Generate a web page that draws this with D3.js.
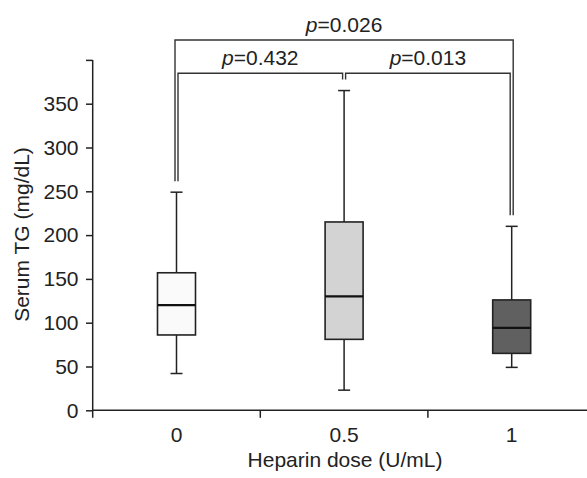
<!DOCTYPE html>
<html>
<head>
<meta charset="utf-8">
<script src="https://cdn.jsdelivr.net/npm/d3@7"></script>
<style>
  html, body { margin: 0; padding: 0; background: #fff; }
  svg { display: block; font-family: "Liberation Sans", Arial, sans-serif; }
</style>
</head>
<body>
<svg id="chart" width="587" height="478"></svg>
<script>
// ---- data ----
const categories = ["0", "0.5", "1"];
const whiskerLow  = [42, 23, 49];
const q1          = [86, 81, 65];
const medians     = [120, 130, 94];
const q3          = [157, 215, 126];
const whiskerHigh = [249, 365, 210];
const boxFills    = ["#fafafa", "#d3d3d3", "#606060"];
const yTicks      = [0, 50, 100, 150, 200, 250, 300, 350, 400];
const yTickLabels = ["0", "50", "100", "150", "200", "250", "300", "350", ""];
const compFrom    = [0, 1, 0];
const compTo      = [1, 2, 2];
const compLevel   = [1, 1, 2];
const compP       = ["0.432", "0.013", "0.026"];
const xTitle = "Heparin dose (U/mL)";
const yTitle = "Serum TG (mg/dL)";

const svg = d3.select("#chart");
const FS = 21;
const ink = "#222";

const x = d3.scaleBand().domain(categories).range([92.7, 595.5]).padding(0);
const y = d3.scaleLinear().domain([0, 400]).range([410.3, 59.9]);
const cx = i => x(categories[i]) + x.bandwidth() / 2;

// ---- y axis ----
const yAxis = d3.axisLeft(y).tickValues(yTicks)
  .tickFormat((d, i) => yTickLabels[i]).tickSize(6.7).tickPadding(7.5).tickSizeOuter(0);
const gy = svg.append("g").attr("transform", `translate(${x.range()[0]},0)`).call(yAxis);
gy.select(".domain").remove();
gy.append("line").attr("x1", 0).attr("x2", 0).attr("y1", y(400)).attr("y2", y(0) + 7.5)
  .attr("stroke", ink).attr("stroke-width", 1.5);
gy.selectAll(".tick line").attr("stroke", ink).attr("stroke-width", 1.5);
gy.selectAll(".tick text").attr("fill", ink).style("font-size", FS + "px")
  .style("font-family", "Liberation Sans, Arial, sans-serif");

// ---- x axis ----
const xAxis = d3.axisBottom(x).tickSize(0).tickPadding(16.8);
const gx = svg.append("g").attr("transform", `translate(0,${y(0)})`).call(xAxis);
gx.select(".domain").remove();
gx.append("line").attr("x1", x.range()[0]).attr("x2", 587).attr("y1", 0).attr("y2", 0)
  .attr("stroke", ink).attr("stroke-width", 1.5);
gx.selectAll(".tick text").attr("fill", ink).style("font-size", FS + "px")
  .style("font-family", "Liberation Sans, Arial, sans-serif");
// boundary ticks
gx.selectAll("line.bt").data(categories.slice(1)).enter().append("line")
  .attr("class", "bt")
  .attr("x1", d => x(d)).attr("x2", d => x(d))
  .attr("y1", 0).attr("y2", 7.5).attr("stroke", ink).attr("stroke-width", 1.5);

// ---- titles ----
svg.append("text").attr("x", 345).attr("y", 466.5).attr("text-anchor", "middle")
  .attr("fill", ink).style("font-size", FS + "px").text(xTitle);
svg.append("text").attr("transform", "translate(28.5,234.5) rotate(-90)")
  .attr("text-anchor", "middle").attr("fill", ink).style("font-size", FS + "px").text(yTitle);

// ---- boxes ----
const boxW = 38, capW = 12;
const g = svg.append("g");
categories.forEach((c, i) => {
  const xc = cx(i);
  // whiskers
  g.append("line").attr("x1", xc).attr("x2", xc).attr("y1", y(whiskerHigh[i])).attr("y2", y(q3[i]))
    .attr("stroke", ink).attr("stroke-width", 1.5);
  g.append("line").attr("x1", xc).attr("x2", xc).attr("y1", y(q1[i])).attr("y2", y(whiskerLow[i]))
    .attr("stroke", ink).attr("stroke-width", 1.5);
  [whiskerHigh[i], whiskerLow[i]].forEach(v => {
    g.append("line").attr("x1", xc - capW / 2).attr("x2", xc + capW / 2)
      .attr("y1", y(v)).attr("y2", y(v)).attr("stroke", ink).attr("stroke-width", 1.5);
  });
  g.append("rect").attr("x", xc - boxW / 2).attr("y", y(q3[i]))
    .attr("width", boxW).attr("height", y(q1[i]) - y(q3[i]))
    .attr("fill", boxFills[i]).attr("stroke", ink).attr("stroke-width", 1.6);
  g.append("line").attr("x1", xc - boxW / 2).attr("x2", xc + boxW / 2)
    .attr("y1", y(medians[i])).attr("y2", y(medians[i]))
    .attr("stroke", "#111").attr("stroke-width", 2.3);
});

// ---- significance brackets ----
const levelY = {1: 73.3, 2: 40};
const off = 1.5, gap = 11;
const bg = svg.append("g");
compFrom.forEach((a, k) => {
  const b = compTo[k];
  const lvl = compLevel[k];
  const sideA = lvl === 2 ? -off : off;
  const sideB = lvl === 2 ? off : -off;
  const xa = cx(a) + sideA, xb = cx(b) + sideB;
  const yl = levelY[lvl];
  const ya = y(whiskerHigh[a]) - gap, yb = y(whiskerHigh[b]) - gap;
  bg.append("path")
    .attr("d", `M${xa},${ya}V${yl}H${xb}V${yb}`)
    .attr("fill", "none").attr("stroke", "#333").attr("stroke-width", 1.4);
  const t = bg.append("text").attr("x", (xa + xb) / 2).attr("y", yl - 8.3)
    .attr("text-anchor", "middle").attr("fill", ink).style("font-size", FS + "px");
  t.append("tspan").style("font-style", "italic").text("p");
  t.append("tspan").text("=" + compP[k]);
});
</script>
</body>
</html>
